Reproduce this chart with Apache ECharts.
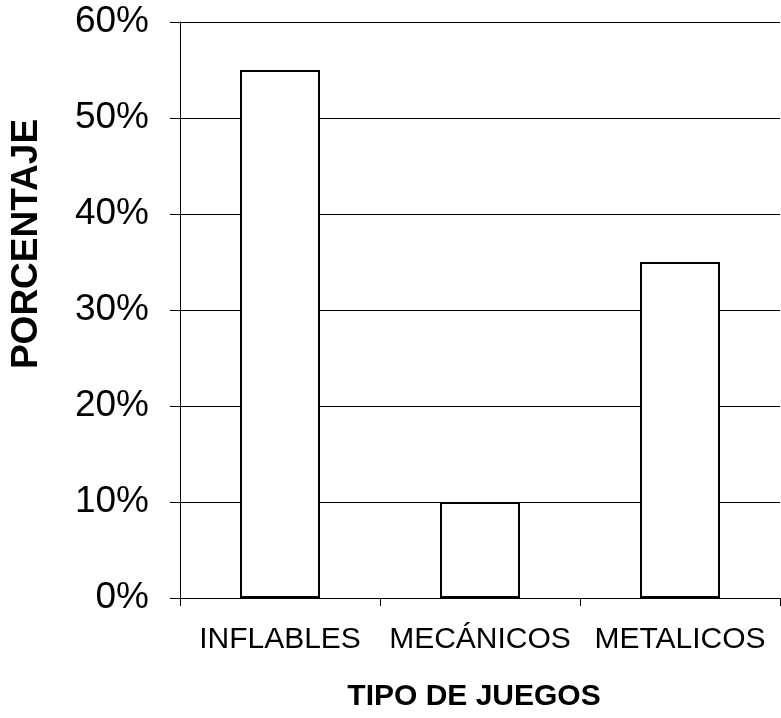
<!DOCTYPE html>
<html>
<head>
<meta charset="utf-8">
<script src="https://cdn.jsdelivr.net/npm/echarts@6/dist/echarts.min.js"></script>
<style>
html,body{margin:0;padding:0;background:#fff;}
#chart{width:781px;height:718px;}
</style>
</head>
<body>
<div id="chart"></div>
<script>
const categories = ['INFLABLES', 'MECÁNICOS', 'METALICOS'];
const values = [55, 10, 35];
const yTicks = [0, 10, 20, 30, 40, 50, 60];
const xTitle = 'TIPO DE JUEGOS';
const yTitle = 'PORCENTAJE';

const chart = echarts.init(document.getElementById('chart'));
chart.setOption({
  animation: false,
  backgroundColor: '#fff',
  grid: {left: 178, right: 1, top: 22, bottom: 120, containLabel: false},
  xAxis: {
    type: 'category',
    data: categories,
    name: xTitle,
    nameLocation: 'middle',
    nameGap: 84,
    nameTextStyle: {fontFamily: 'Liberation Sans', fontWeight: 'bold', fontSize: 30, color: '#000', padding: [0, 12, 0, 0]},
    axisLine: {show: true, lineStyle: {color: '#000', width: 1}},
    axisTick: {show: true, length: 8, lineStyle: {color: '#000'}},
    axisLabel: {fontFamily: 'Liberation Sans', fontSize: 30, color: '#000', margin: 27, interval: 0}
  },
  yAxis: {
    type: 'value',
    min: yTicks[0],
    max: yTicks[yTicks.length - 1],
    interval: 10,
    name: yTitle,
    nameLocation: 'middle',
    nameGap: 135,
    nameTextStyle: {fontFamily: 'Liberation Sans', fontWeight: 'bold', fontSize: 37, color: '#000', padding: [0, 0, 0, 132]},
    axisLine: {show: true, lineStyle: {color: '#000', width: 1}},
    axisTick: {show: true, length: 10, lineStyle: {color: '#000'}},
    axisLabel: {fontFamily: 'Liberation Sans', fontSize: 37, color: '#000', margin: 31, formatter: v => v + '%'},
    splitLine: {show: true, lineStyle: {color: '#000', width: 1}}
  },
  series: [{
    type: 'bar',
    data: values,
    barWidth: 80,
    itemStyle: {color: '#fff', borderColor: '#000', borderWidth: 2}
  }]
});
</script>
</body>
</html>
